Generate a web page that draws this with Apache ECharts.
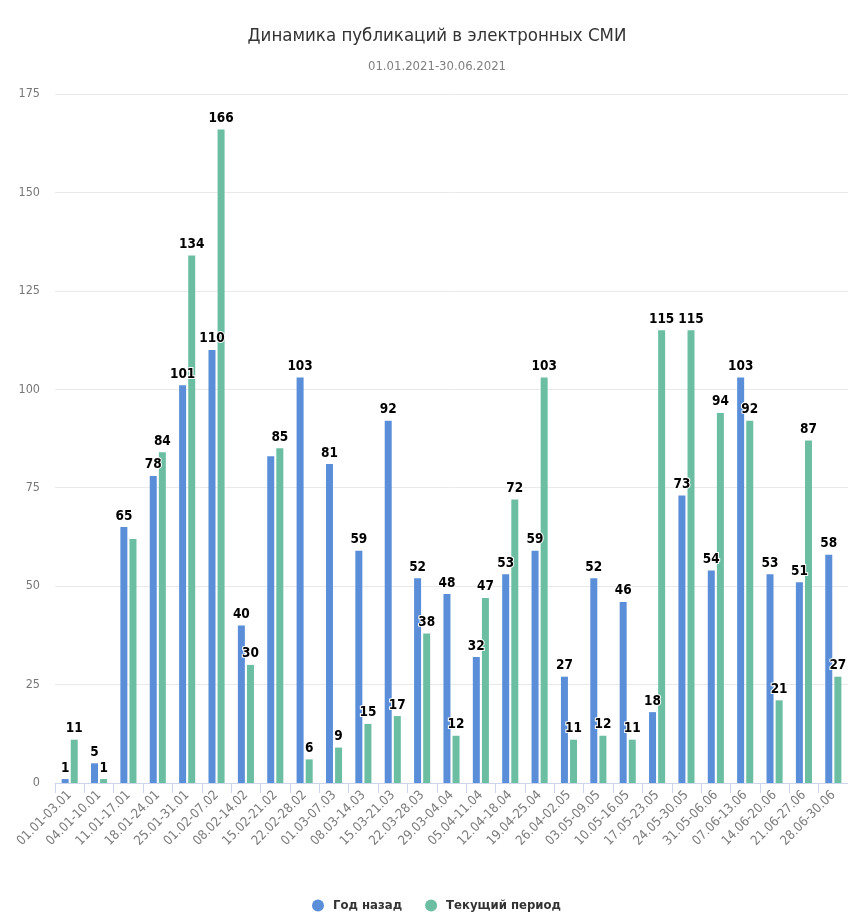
<!DOCTYPE html>
<html>
<head>
<meta charset="utf-8">
<script src="https://cdn.jsdelivr.net/npm/echarts@6/dist/echarts.min.js"></script>
<style>
  html, body { margin: 0; padding: 0; background: #ffffff; }
  #chart { width: 848px; height: 915px; }
</style>
</head>
<body>
<div id="chart"></div>
<script>
// Weekly periods
const categories = [
  '01.01-03.01', '04.01-10.01', '11.01-17.01', '18.01-24.01', '25.01-31.01',
  '01.02-07.02', '08.02-14.02', '15.02-21.02', '22.02-28.02', '01.03-07.03',
  '08.03-14.03', '15.03-21.03', '22.03-28.03', '29.03-04.04', '05.04-11.04',
  '12.04-18.04', '19.04-25.04', '26.04-02.05', '03.05-09.05', '10.05-16.05',
  '17.05-23.05', '24.05-30.05', '31.05-06.06', '07.06-13.06', '14.06-20.06',
  '21.06-27.06', '28.06-30.06'
];

// Publications a year ago
const yearAgo = [1, 5, 65, 78, 101, 110, 40, 83, 103, 81, 59, 92, 52, 48, 32,
  53, 59, 27, 52, 46, 18, 73, 54, 103, 53, 51, 58];

// Publications in the current period
const currentPeriod = [11, 1, 62, 84, 134, 166, 30, 85, 6, 9, 15, 17, 38, 12, 47,
  72, 103, 11, 12, 11, 115, 115, 94, 92, 21, 87, 27];

// Labels that would collide with a neighbouring label stay hidden
const hiddenYearAgo = ['15.02-21.02'];
const hiddenCurrent = ['11.01-17.01'];

const yTicks = [0, 25, 50, 75, 100, 125, 150, 175];

const FONT = "'DejaVu Sans Condensed', 'DejaVu Sans', sans-serif";

function withLabels(values, hidden) {
  return values.map((v, i) => ({
    value: v,
    label: { show: hidden.indexOf(categories[i]) < 0 }
  }));
}

const labelStyle = {
  show: true,
  position: 'top',
  distance: 4,
  fontFamily: FONT,
  fontWeight: 'bold',
  fontSize: 13.5,
  color: '#000000',
  textBorderColor: '#ffffff',
  textBorderWidth: 2
};

const chart = echarts.init(document.getElementById('chart'), null, { renderer: 'canvas' });

chart.setOption({
  backgroundColor: '#ffffff',
  animation: false,
  title: {
    text: 'Динамика публикаций в электронных СМИ',
    subtext: '01.01.2021-30.06.2021',
    left: 432,
    textAlign: 'center',
    top: 22,
    itemGap: 14,
    textStyle: { fontFamily: FONT, fontSize: 18.5, fontWeight: 'normal', color: '#333333' },
    subtextStyle: { fontFamily: FONT, fontSize: 13, color: '#808080' }
  },
  legend: {
    top: 894,
    left: 307,
    icon: 'circle',
    itemWidth: 12,
    itemHeight: 12,
    itemGap: 23,
    textStyle: {
      fontFamily: FONT, fontSize: 13, fontWeight: 'bold', color: '#333333',
      padding: [0, 0, 0, 4]
    },
    data: ['Год назад', 'Текущий период']
  },
  grid: { left: 55, right: 0, top: 94, bottom: 132, containLabel: false },
  xAxis: {
    type: 'category',
    data: categories,
    axisLine: { lineStyle: { color: '#ccd6eb' } },
    axisTick: { show: true, alignWithLabel: false, length: 10, lineStyle: { color: '#ccd6eb' } },
    axisLabel: {
      rotate: 45,
      interval: 0,
      margin: 10,
      fontFamily: FONT,
      fontSize: 13,
      color: '#7a7a7a'
    }
  },
  yAxis: {
    type: 'value',
    min: yTicks[0],
    max: yTicks[yTicks.length - 1],
    interval: 25,
    axisLine: { show: false },
    axisTick: { show: false },
    splitLine: { lineStyle: { color: '#e9e9e9' } },
    axisLabel: { fontFamily: FONT, fontSize: 12.5, color: '#777777', margin: 15 }
  },
  series: [
    {
      name: 'Год назад',
      type: 'bar',
      barWidth: 7,
      barGap: '30%',
      itemStyle: { color: '#5b8ed8' },
      label: labelStyle,
      data: withLabels(yearAgo, hiddenYearAgo)
    },
    {
      name: 'Текущий период',
      type: 'bar',
      barWidth: 7,
      barGap: '30%',
      itemStyle: { color: '#6cbea3' },
      label: labelStyle,
      data: withLabels(currentPeriod, hiddenCurrent)
    }
  ]
});
</script>
</body>
</html>
